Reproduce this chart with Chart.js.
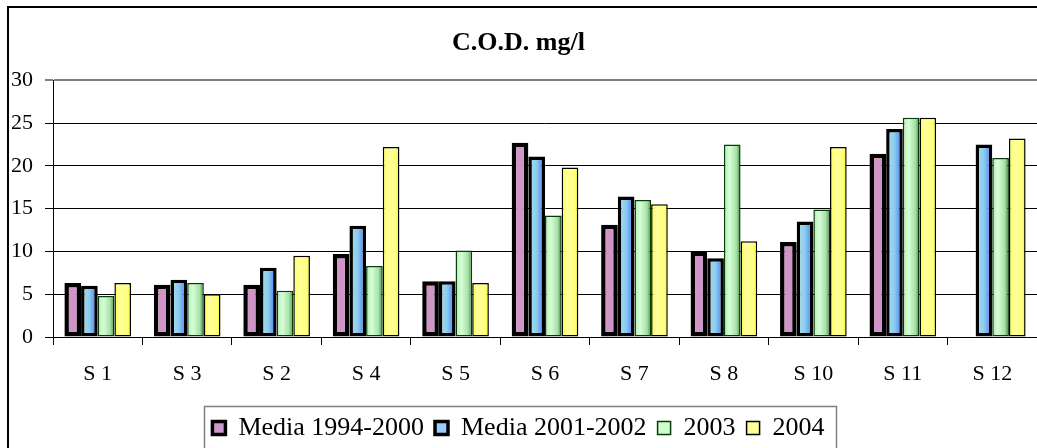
<!DOCTYPE html>
<html>
<head>
<meta charset="utf-8">
<script src="https://cdn.jsdelivr.net/npm/chart.js@4"></script>
<style>
  html, body { margin: 0; padding: 0; background: #fff; }
  #box { width: 1037px; height: 448px; }
</style>
</head>
<body>
<div id="box"><canvas id="grafico"></canvas></div>
<script>
// dati C.O.D.
const stazioni = ['S 1', 'S 3', 'S 2', 'S 4', 'S 5', 'S 6', 'S 7', 'S 8', 'S 10', 'S 11', 'S 12'];
const media9400 = [6.3, 6.1, 6.1, 9.7, 6.5, 22.7, 13.1, 10.0, 11.1, 21.4, null];
const media0102 = [6.0, 6.7, 8.1, 13.0, 6.5, 21.1, 16.4, 9.2, 13.5, 24.3, 22.5];
const anno2003 = [4.8, 6.3, 5.4, 8.3, 10.1, 14.2, 16.0, 22.5, 14.9, 25.6, 20.9];
const anno2004 = [6.3, 5.0, 9.5, 22.2, 6.3, 19.8, 15.5, 11.2, 22.2, 25.6, 23.2];
const valoriAsse = [0, 5, 10, 15, 20, 25, 30];

const PCT_CATEGORIA = 0.745;
const FONT = "'Liberation Serif', 'Times New Roman', serif";

// sfumatura orizzontale per ogni barra (effetto 3D)
function sfumatura(stops, tinta) {
    return function(context) {
        if (context.type !== 'data') return tinta;
        const chart = context.chart;
        const x = chart.scales.x;
        if (!x || !chart.chartArea) return tinta;
        const larghezzaCat = x.width / stazioni.length;
        const gruppo = larghezzaCat * PCT_CATEGORIA;
        const barra = gruppo / 4;
        const sinistra = x.getPixelForValue(context.dataIndex) - gruppo / 2 + context.datasetIndex * barra;
        const g = chart.ctx.createLinearGradient(sinistra, 0, sinistra + barra, 0);
        stops.forEach(([pos, col]) => g.addColorStop(pos, col));
        return g;
    };
}

const tinte = ['#CC99CC', '#99CCFF', '#CCFFCC', '#FFFF99'];

const cornice = {
    id: 'cornice',
    afterDraw(chart) {
        const ctx = chart.ctx;
        ctx.save();
        ctx.strokeStyle = '#000';
        ctx.lineWidth = 2;
        ctx.beginPath();
        ctx.moveTo(8, chart.height);
        ctx.lineTo(8, 7);
        ctx.lineTo(chart.width, 7);
        ctx.stroke();

        // riquadro della legenda
        const boxes = chart.legend.legendHitBoxes;
        if (boxes && boxes.length) {
            const ultimo = boxes[boxes.length - 1];
            const sx = boxes[0].left - 8;
            const dx = ultimo.left + ultimo.width + 12;
            ctx.strokeStyle = '#808080';
            ctx.lineWidth = 1.5;
            ctx.strokeRect(Math.round(sx) + 0.5, 406.5, Math.round(dx - sx), 60);
        }
        ctx.restore();
    }
};

Chart.defaults.font.family = FONT;
Chart.defaults.color = '#000';

const opzioniBarra = {
    categoryPercentage: PCT_CATEGORIA,
    barPercentage: 1.0,
    borderSkipped: false,
    inflateAmount: 0
};

new Chart(document.getElementById('grafico'), {
    type: 'bar',
    data: {
        labels: stazioni,
        datasets: [{
            label: 'Media 1994-2000',
            data: media9400,
            backgroundColor: sfumatura([[0, '#E0506E'], [0.2, '#D494C4'], [0.78, '#CC96C8'], [1, '#E8405E']], tinte[0]),
            borderColor: '#000',
            borderWidth: 4.5,
            ...opzioniBarra
        }, {
            label: 'Media 2001-2002',
            data: media0102,
            backgroundColor: sfumatura([[0, '#A8E0E4'], [0.5, '#8CCCF0'], [1, '#3C74F4']], tinte[1]),
            borderColor: '#000',
            borderWidth: 3.5,
            ...opzioniBarra
        }, {
            label: '2003',
            data: anno2003,
            backgroundColor: sfumatura([[0, '#B4ECB4'], [0.35, '#D4FFD4'], [0.75, '#A8E0A8'], [1, '#3C8C3C']], tinte[2]),
            borderColor: '#0A3A0A',
            borderWidth: 1.5,
            ...opzioniBarra
        }, {
            label: '2004',
            data: anno2004,
            backgroundColor: sfumatura([[0, '#FFFF40'], [0.3, '#FFFF99'], [0.8, '#FFFF80'], [1, '#F4F400']], tinte[3]),
            borderColor: '#000',
            borderWidth: 1.5,
            ...opzioniBarra
        }]
    },
    options: {
        responsive: true,
        maintainAspectRatio: false,
        animation: false,
        layout: { padding: 0 },
        plugins: {
            title: {
                display: true,
                text: 'C.O.D. mg/l',
                font: { size: 26, weight: 'bold' },
                padding: { top: 28, bottom: 21 }
            },
            legend: {
                position: 'bottom',
                maxHeight: 44,
                labels: {
                    font: { size: 26 },
                    boxWidth: 13,
                    boxHeight: 13,
                    padding: 11,
                    generateLabels(chart) {
                        return chart.data.datasets.map((ds, i) => ({
                            text: ds.label,
                            fillStyle: tinte[i],
                            strokeStyle: ds.borderColor,
                            lineWidth: Math.min(ds.borderWidth, 3.5),
                            hidden: false,
                            datasetIndex: i,
                            fontColor: '#000'
                        }));
                    }
                }
            },
            tooltip: { enabled: false }
        },
        scales: {
            x: {
                grid: {
                    drawOnChartArea: false,
                    drawTicks: true,
                    tickLength: 8,
                    color: '#000',
                    offset: true
                },
                border: { color: '#000', width: 1 },
                ticks: { font: { size: 22 }, padding: 16, maxRotation: 0 },
                afterFit(scale) { scale.height = 67; }
            },
            y: {
                min: 0,
                max: 30,
                afterBuildTicks(scale) { scale.ticks = valoriAsse.map(v => ({ value: v })); },
                grid: {
                    color: (c) => c.tick && c.tick.value === 30 ? '#808080' : '#000',
                    lineWidth: (c) => c.tick && c.tick.value === 30 ? 2 : 1,
                    tickLength: 8,
                    drawTicks: true
                },
                border: { color: '#000', width: 1 },
                ticks: { font: { size: 22 }, padding: 12 },
                afterFit(scale) { scale.width = 53; }
            }
        }
    },
    plugins: [cornice]
});
</script>
</body>
</html>
